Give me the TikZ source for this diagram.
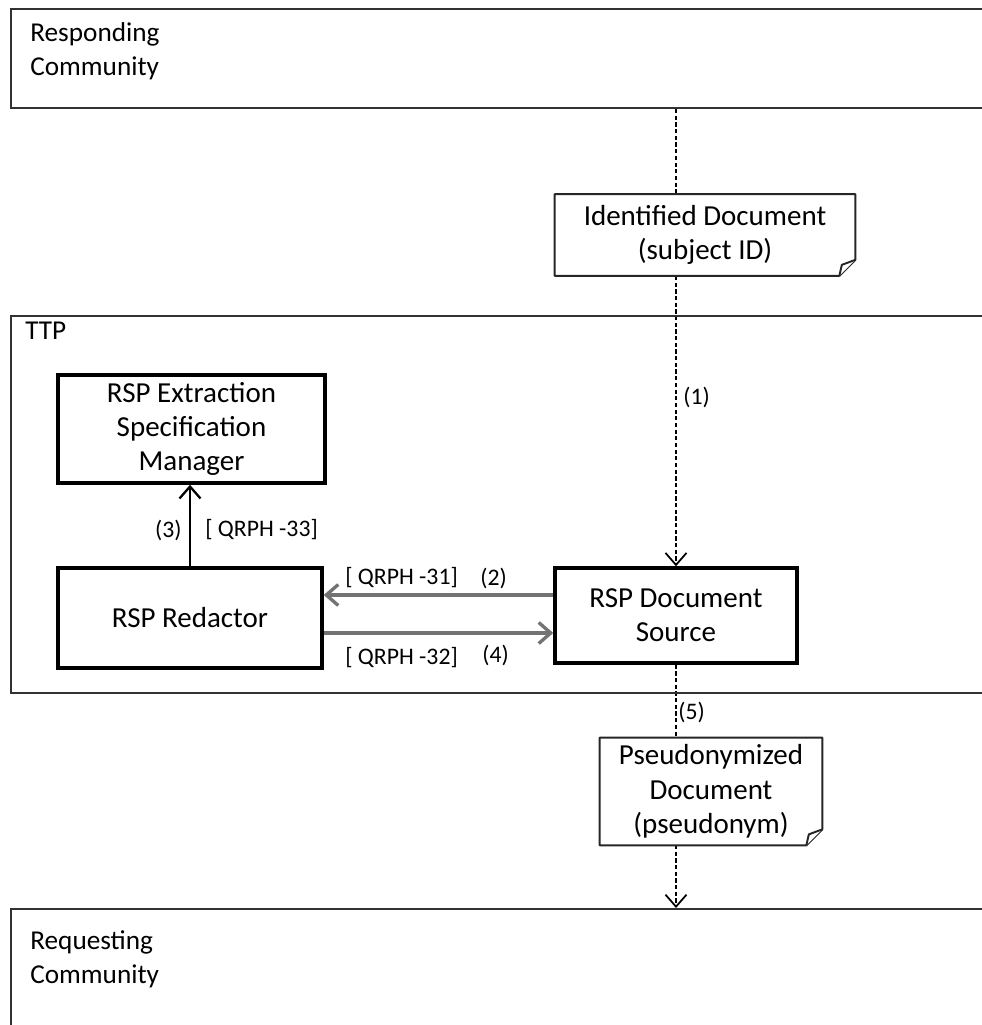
\documentclass[tikz,border=0pt]{standalone}
\usepackage{fontspec}
\setmainfont{Carlito}
\usetikzlibrary{arrows.meta, positioning, calc, backgrounds}
\definecolor{framegray}{RGB}{50, 50, 50}
\definecolor{msggray}{RGB}{115, 115, 115}
\tikzset{
    groupbox/.style={draw=framegray, line width=1.2pt, rectangle, minimum width=20cm, anchor=north west, inner sep=0pt},
    grouplabel/.style={font=\fontsize{15.5}{19.5}\selectfont, align=left, anchor=north west, inner sep=0pt},
    compbox/.style={draw, rectangle, line width=2pt, font=\fontsize{16.5}{19.5}\selectfont, align=center},
    docbox/.style={rectangle, font=\fontsize{16.5}{19.5}\selectfont, align=center},
    docline/.style={draw=black!85, line width=1.1pt, fill=white, line join=round},
    steplabel/.style={font=\fontsize{13.5}{16}\selectfont, inner sep=0pt},
    dashflow/.style={-{Straight Barb[length=2.4mm, width=4.2mm]}, line width=1pt, dash pattern=on 2.4pt off 1.4pt},
    msgflow/.style={-{Straight Barb[length=2.4mm, width=4.2mm]}, line width=1.9pt, draw=msggray},
    callflow/.style={-{Straight Barb[length=2.4mm, width=4.2mm]}, line width=1.3pt},
}
% document shape with folded corner
\newcommand{\docoutline}[1]{%
    \draw[docline] (#1.north west) -- (#1.north east) -- ([yshift=0.32cm]#1.south east)
        -- ([xshift=-0.32cm]#1.south east) -- (#1.south west) -- cycle;
    \draw[docline] ([yshift=0.32cm]#1.south east) -- ([xshift=-0.27cm, yshift=0.22cm]#1.south east)
        -- ([xshift=-0.32cm]#1.south east);
}

\begin{document}
\begin{tikzpicture}[x=0.02cm, y=-0.02cm]
    \useasboundingbox (0,0) rectangle (982,1025);
    \clip (0,0) rectangle (982,1025);

    % communities
    \node[groupbox, minimum height=1.98cm] (resp) at (10,8) {};
    \node[grouplabel] (resplbl) at (30,22) {Responding\\Community};
    \node[groupbox, minimum height=7.54cm] (ttp) at (10,315) {};
    \node[grouplabel] (ttplbl) at (25,322) {TTP};
    \node[groupbox, minimum height=3cm] (req) at (10,908) {};
    \node[grouplabel] (reqlbl) at (30,930) {Requesting\\Community};

    % actors
    \node[compbox, minimum width=5.34cm, minimum height=2.16cm] (ext) at (191.5,429)
          {RSP Extraction\\Specification\\Manager};
    \node[compbox, minimum width=5.28cm, minimum height=2cm] (red) at (190,618) {RSP Redactor};
    \node[compbox, minimum width=4.84cm, minimum height=1.9cm] (src) at (676,615.5)
          {RSP Document\\Source};

    % documents
    \node[docbox, minimum width=6cm, minimum height=1.62cm] (iddoc) at (705,235)
          {Identified Document\\(subject ID)};
    \node[docbox, minimum width=4.44cm, minimum height=2.14cm] (psdoc) at (711,791.5)
          {Pseudonymized\\Document\\(pseudonym)};

    \begin{scope}[on background layer]
        \draw[dashflow] (src.north |- resp.south) -- (src.north);
        \draw[dashflow] (src.south) -- (src.south |- req.north);
        \docoutline{iddoc}
        \docoutline{psdoc}
    \end{scope}

    % transactions
    \coordinate (in2) at ([yshift=0.41cm]src.west);
    \coordinate (out4) at ([yshift=-0.30cm]red.east);
    \draw[callflow] (red.north) -- (red.north |- ext.south);
    \draw[msgflow] (in2) -- (in2 -| red.east);
    \draw[msgflow] (out4) -- (out4 -| src.west);

    \node[steplabel, anchor=west] (l1) at (683,397) {(1)};
    \node[steplabel, anchor=west] (l2) at (480,578) {(2)};
    \node[steplabel, anchor=west] (q31) at (345,578) {[ QRPH -31]};
    \node[steplabel, anchor=east] (l3) at (182,530) {(3)};
    \node[steplabel, anchor=west] (q33) at (205,530) {[ QRPH -33]};
    \node[steplabel, anchor=west] (l4) at (482,655) {(4)};
    \node[steplabel, anchor=west] (q32) at (345,658) {[ QRPH -32]};
    \node[steplabel, anchor=west] (l5) at (678,712) {(5)};
\end{tikzpicture}
\end{document}
